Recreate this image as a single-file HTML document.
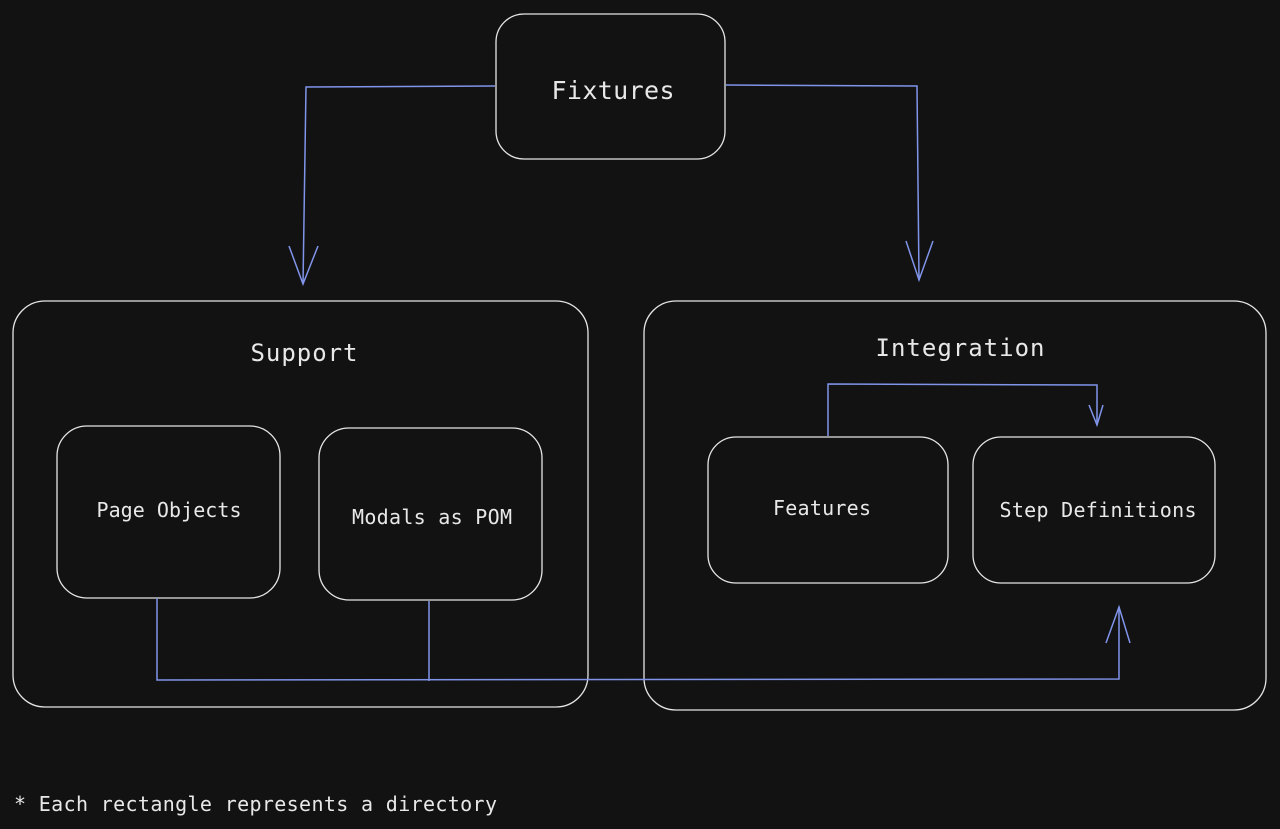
<!DOCTYPE html>
<html><head><meta charset="utf-8"><style>
html,body{margin:0;padding:0;background:#121212;width:1280px;height:829px;overflow:hidden}
svg{display:block}
text{font-family:"DejaVu Sans Mono","Liberation Mono",monospace;fill:#e8e8e8}
</style></head><body>
<svg width="1280" height="829" viewBox="0 0 1280 829">
<g fill="none" stroke="#e6e6e6" stroke-width="1.3">
<rect x="496" y="14" width="229" height="145" rx="28"/>
<rect x="13" y="301" width="575" height="406" rx="32"/>
<rect x="644" y="301" width="622" height="409" rx="32"/>
<rect x="57" y="426" width="223" height="172" rx="30"/>
<rect x="319" y="428" width="223" height="172" rx="30"/>
<rect x="708" y="437" width="240" height="146" rx="28"/>
<rect x="973" y="437" width="242" height="146" rx="28"/>
</g>
<g fill="none" stroke="#8094ea" stroke-width="1.5">
<path d="M495 86 L306 87 L303 284"/>
<path d="M289 246 L303 284 L318 246"/>
<path d="M726 85 L917 86 L919 280"/>
<path d="M906 241 L919 280 L933 241"/>
<path d="M828 436 L828 384 L1097 385 L1097 425"/>
<path d="M1089 405 L1097 425 L1103 405"/>
<path d="M157 598 L157 680 L1119 679 L1119 607"/>
<path d="M429 601 L429 681"/>
<path d="M1106 643 L1119 607 L1130 643"/>
</g>
<text x="613" y="99" font-size="25" text-anchor="middle" textLength="123">Fixtures</text>
<text x="304" y="361" font-size="24" text-anchor="middle" textLength="107">Support</text>
<text x="960" y="356" font-size="24" text-anchor="middle" textLength="169">Integration</text>
<text x="169" y="517" font-size="20" text-anchor="middle" textLength="145">Page Objects</text>
<text x="432" y="524" font-size="20" text-anchor="middle" textLength="160">Modals as POM</text>
<text x="822" y="515" font-size="20" text-anchor="middle" textLength="98">Features</text>
<text x="1098" y="517" font-size="20" text-anchor="middle" textLength="197">Step Definitions</text>
<text x="14" y="811" font-size="20" textLength="483">* Each rectangle represents a directory</text>
</svg>
</body></html>
